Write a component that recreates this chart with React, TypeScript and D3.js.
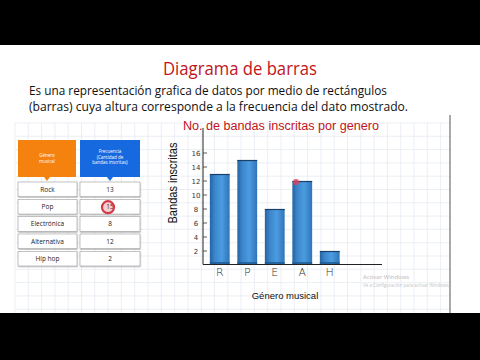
import React from "react";
import * as d3 from "d3";

const genres = ["Rock", "Pop", "Electrónica", "Alternativa", "Hip hop"];
const genreLetters = ["R", "P", "E", "A", "H"];
const counts = [13, 15, 8, 12, 2];
const yTicks = [2, 4, 6, 8, 10, 12, 14, 16];
const titleText = "Diagrama de barras";
const descLines = [
  "Es una representación grafica de datos por medio de rectángulos",
  "(barras) cuya altura corresponde a la frecuencia del dato mostrado.",
];
const chartTitle = "No. de bandas inscritas por genero";
const yTitle = "Bandas inscritas";
const xTitle = "Género musical";
const headLeft = ["Género", "musical"];
const headRight = ["Frecuencia", "(Cantidad de", "bandas inscritas)"];

export default function App() {
  const W = 480, H = 360;
  const x = d3.scaleBand<string>().domain(genreLetters).range([206, 343.5]).paddingInner(0.28).paddingOuter(0.14);
  const y = d3.scaleLinear().domain([0, 16]).range([265, 153]);
  const rowY = d3.scaleBand<string>().domain(genres).range([182, 266]).paddingInner(0.15);

  const gridX = d3.range(15, 451, 13.3);
  const gridY = d3.range(123, 313, 13.3);
  const sans = "Liberation Sans, Arial, sans-serif";
  const body = "Open Sans, Noto Sans, sans-serif";

  return (
    <svg width={W} height={H} style={{ position: "absolute", left: 0, top: 0 }} xmlns="http://www.w3.org/2000/svg">
      <defs>
        <linearGradient id="barG" x1="0" x2="1" y1="0" y2="0">
          <stop offset="0" stopColor="#2563a0" />
          <stop offset="0.25" stopColor="#3b86cc" />
          <stop offset="0.6" stopColor="#4c9be0" />
          <stop offset="1" stopColor="#2f74b8" />
        </linearGradient>
        <filter id="sh" x="-10%" y="-10%" width="130%" height="140%">
          <feDropShadow dx="0.5" dy="1" stdDeviation="0.6" floodColor="#000" floodOpacity="0.25" />
        </filter>
      </defs>
      <rect x={0} y={0} width={W} height={H} fill="#000" />
      <rect x={0} y={45} width={W} height={268} fill="#fff" />

      {/* grid */}
      <g stroke="#e6ebf1" strokeWidth={0.8}>
        {gridX.map((gx, i) => <line key={"gx" + i} x1={gx} x2={gx} y1={123} y2={313} />)}
        {gridY.map((gy, i) => <line key={"gy" + i} x1={15} x2={450} y1={gy} y2={gy} />)}
      </g>
      <line x1={450} x2={450} y1={115} y2={313} stroke="#555" strokeWidth={1} />

      {/* titles */}
      <text x={240} y={75} textAnchor="middle" fontFamily={body} fontSize={18.5} fill="#c0141c" textLength={154} lengthAdjust="spacingAndGlyphs">{titleText}</text>
      {descLines.map((t, i) => (
        <text key={i} x={29} y={95 + i * 15.5} fontFamily={body} fontSize={12.5} fill="#111" textLength={i === 0 ? 358 : 379} lengthAdjust="spacingAndGlyphs">{t}</text>
      ))}

      {/* table headers */}
      <g>
        <rect x={18} y={140} width={58} height={37} fill="#f5820f" />
        <path d="M44,177 L50,177 L47,181 Z" fill="#f5820f" />
        {headLeft.map((t, i) => (
          <text key={i} x={47} y={157 + i * 5.5} textAnchor="middle" fontFamily={body} fontSize={4.5} fill="#fff">{t}</text>
        ))}
        <rect x={80} y={140} width={60} height={37} fill="#1769e0" />
        <path d="M107,177 L113,177 L110,181 Z" fill="#1769e0" />
        {headRight.map((t, i) => (
          <text key={i} x={110} y={153 + i * 5.5} textAnchor="middle" fontFamily={body} fontSize={4.5} fill="#fff">{t}</text>
        ))}
      </g>
      {genres.map((g, i) => {
        const ry = rowY(g)!;
        const rh = rowY.bandwidth();
        return (
          <g key={g}>
            <rect x={18} y={ry} width={59} height={rh} fill="#fff" stroke="#9a9a9a" strokeWidth={0.6} filter="url(#sh)" />
            <rect x={80} y={ry} width={60} height={rh} fill="#fff" stroke="#9a9a9a" strokeWidth={0.6} filter="url(#sh)" />
            <text x={47.5} y={ry + rh / 2 + 2.3} textAnchor="middle" fontFamily={body} fontSize={6.5} fill="#222">{g}</text>
            <text x={110} y={ry + rh / 2 + 2.3} textAnchor="middle" fontFamily={body} fontSize={6.5} fill="#222">{counts[i]}</text>
          </g>
        );
      })}
      {/* cursor annotation on Pop */}
      <circle cx={108} cy={rowY("Pop")! + rowY.bandwidth() / 2 + 0.5} r={6} fill="rgba(220,60,70,0.25)" stroke="#d23a48" strokeWidth={2.2} />

      {/* chart */}
      <text x={281} y={130} textAnchor="middle" fontFamily={sans} fontSize={12.5} fill="#c0141c" textLength={196} lengthAdjust="spacingAndGlyphs">{chartTitle}</text>
      {genreLetters.map((c, i) => {
        const bx = x(c)!;
        const bw = x.bandwidth();
        const top = y(counts[i]);
        return (
          <g key={c}>
            <rect x={bx} y={top} width={bw} height={y(0) - top} fill="url(#barG)" />
            <line x1={bx} x2={bx + bw} y1={top + 0.5} y2={top + 0.5} stroke="#17406b" strokeWidth={1.2} />
            <rect x={bx} y={y(0) - 3} width={bw} height={3} fill="#1f5a92" opacity={0.8} />
            <text x={bx + bw / 2} y={276} textAnchor="middle" fontFamily="DejaVu Sans, sans-serif" fontWeight={200} fontSize={11} fill="#333">{c}</text>
          </g>
        );
      })}
      <circle cx={296} cy={y(counts[3]) + 1} r={3} fill="#e0405a" opacity={0.85} />
      <line x1={203} x2={203} y1={128} y2={264.5} stroke="#222" strokeWidth={1} />
      <line x1={203} x2={382} y1={264.5} y2={264.5} stroke="#222" strokeWidth={1} />
      {yTicks.map((t) => (
        <g key={t}>
          <line x1={203} x2={207} y1={y(t)} y2={y(t)} stroke="#333" strokeWidth={0.8} />
          <text x={196} y={y(t) + 2.5} textAnchor="middle" fontFamily="DejaVu Sans, sans-serif" fontSize={7} fill="#333">{t}</text>
        </g>
      ))}
      <text transform="translate(177,183) rotate(-90)" textAnchor="middle" fontFamily={sans} fontSize={12} fill="#111" textLength={81} lengthAdjust="spacingAndGlyphs">{yTitle}</text>
      <text x={285} y={299} textAnchor="middle" fontFamily={sans} fontSize={9.5} fill="#111">{xTitle}</text>

      {/* watermark */}
      <text x={363} y={279} fontFamily={body} fontSize={6} fill="#b8b8b8">Activar Windows</text>
      <text x={363} y={287} fontFamily={body} fontSize={4.5} fill="#c4c4c4">Ve a Configuración para activar Windows.</text>
    </svg>
  );
}
